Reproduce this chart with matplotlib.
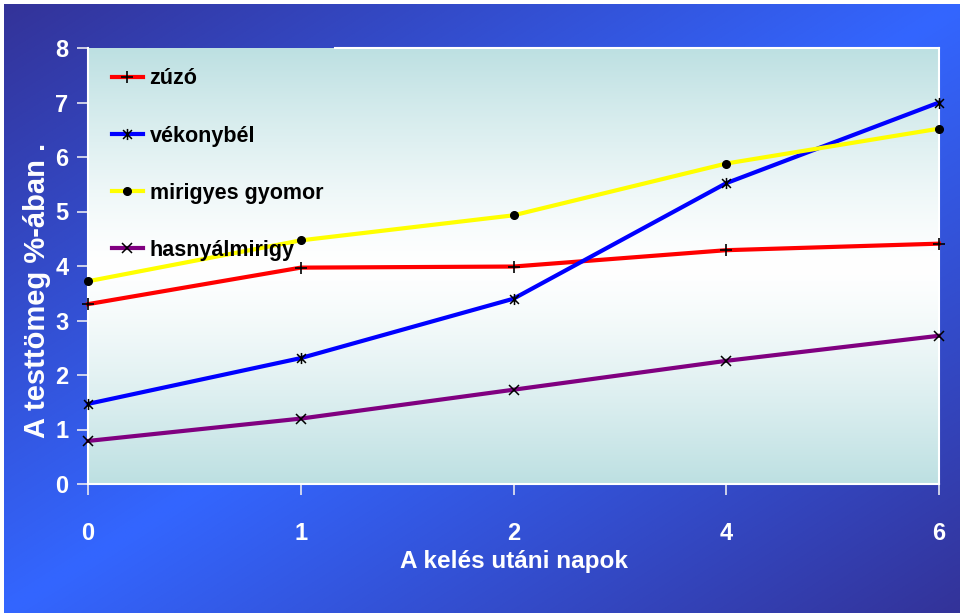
import numpy as np
import matplotlib
matplotlib.use("Agg")
import matplotlib.pyplot as plt
from matplotlib.path import Path
from matplotlib.colors import to_rgb

# Days after hatching (shown as evenly spaced categories)
days = ["0", "1", "2", "4", "6"]

# Organ weight as percentage of body mass
zuzo = [3.30, 3.97, 3.99, 4.29, 4.41]
vekonybel = [1.47, 2.31, 3.40, 5.52, 7.00]
mirigyes_gyomor = [3.72, 4.47, 4.93, 5.88, 6.52]
hasnyalmirigy = [0.79, 1.20, 1.73, 2.26, 2.72]

series_names = ["zúzó", "vékonybél", "mirigyes gyomor", "hasnyálmirigy"]
yticks = [0, 1, 2, 3, 4, 5, 6, 7, 8]

plt.rcParams["font.family"] = ["Liberation Sans", "DejaVu Sans"]
plt.rcParams["font.weight"] = "bold"

W, H = 960, 613
fig = plt.figure(figsize=(W / 100, H / 100), dpi=100, facecolor="white")

# Slide background: diagonal blue gradient, dark in two corners, bright across the middle
bg = fig.add_axes([4 / W, 0, 1 - 4 / W, 1 - 4 / H], zorder=-10)
bg.set_axis_off()
nx, ny = 240, 160
u = np.linspace(0, 1, nx)[None, :]
v = np.linspace(0, 1, ny)[:, None]   # row 0 is the top edge
t = (u + v) / 2
mix = 1 - np.abs(2 * t - 1)
dark = np.array(to_rgb("#333399"))
bright = np.array(to_rgb("#3366ff"))
img = dark[None, None, :] + (bright - dark)[None, None, :] * mix[:, :, None]
bg.imshow(img, extent=[0, 1, 0, 1], origin="upper", aspect="auto", interpolation="bilinear")
bg.set_xlim(0, 1)
bg.set_ylim(0, 1)

ax = fig.add_axes([88 / W, 1 - 484 / H, (939 - 88) / W, (484 - 48) / H])
ax.set_facecolor("none")

# Plot area: teal at top and bottom fading to white in the middle
gy = np.linspace(0, 1, 200)[:, None]
gm = np.abs(2 * gy - 1) ** 1.3
teal = np.array(to_rgb("#bde0e2"))
white = np.array([1.0, 1.0, 1.0])
gimg = white[None, None, :] + (teal - white)[None, None, :] * gm[:, :, None]
gimg = np.repeat(gimg, 2, axis=1)
ax.imshow(gimg, extent=[0, 1, 0, 1], transform=ax.transAxes, aspect="auto",
          interpolation="bilinear", zorder=0)

star = Path([(-1, -1), (1, 1), (-1, 1), (1, -1), (0, -1.25), (0, 1.25)],
            [Path.MOVETO, Path.LINETO, Path.MOVETO, Path.LINETO, Path.MOVETO, Path.LINETO])

x = np.arange(len(days))
styles = [
    (zuzo, "#ff0000", "+", 8, 1.2),
    (vekonybel, "#0000ff", star, 8, 1.1),
    (mirigyes_gyomor, "#ffff00", "o", 5.5, 1.0),
    (hasnyalmirigy, "#800080", "x", 7, 1.1),
]
for (vals, color, marker, ms, mew), name in zip(styles, series_names):
    ax.plot(x, vals, color=color, lw=3, marker=marker, markersize=ms,
            markeredgecolor="black", markerfacecolor="black", markeredgewidth=mew,
            label=name, clip_on=False, zorder=3)

ax.set_xlim(0, len(days) - 1)
ax.set_ylim(0, 8)
ax.set_xticks(x)
ax.set_xticklabels(days)
ax.set_yticks(yticks)

for side in ["left", "bottom", "right", "top"]:
    ax.spines[side].set_color("white")
    ax.spines[side].set_linewidth(1.5)
ax.spines["top"].set_bounds(1.16, len(days) - 1)

ax.tick_params(axis="both", colors="#e8e8f0", width=1.2, length=8, direction="out",
               labelcolor="white", labelsize=17)
ax.tick_params(axis="y", pad=6)
ax.tick_params(axis="x", pad=19)

ax.set_xlabel("A kelés utáni napok", color="white", fontsize=17.5, fontweight="bold", labelpad=4)
ax.set_ylabel("A testtömeg %-ában .", color="white", fontsize=21, fontweight="bold")
ax.yaxis.set_label_coords(-0.043, 0.443)

leg = ax.legend(loc="upper left", bbox_to_anchor=(0.028, 0.953), frameon=False,
                borderaxespad=0, borderpad=0, handlelength=1.45, handletextpad=0.3,
                labelspacing=1.68, prop={"size": 15.5, "weight": "bold"})
for txt in leg.get_texts():
    txt.set_color("black")

fig.savefig("out.png", dpi=100, facecolor="white")
